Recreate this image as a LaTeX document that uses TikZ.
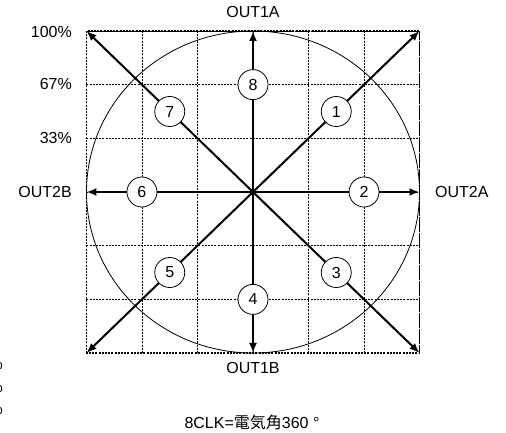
\documentclass[tikz,border=0pt]{standalone}
\usepackage{fontspec}
\setmainfont{Liberation Sans}
\newfontfamily\cjkfont{Noto Sans CJK JP}
\usetikzlibrary{arrows.meta}

\begin{document}
\begin{tikzpicture}[
      x=1pt, y=1pt,
      font=\fontsize{16}{19}\selectfont,
      gridline/.style={line width=0.9pt, dash pattern=on 2pt off 1.2pt},
      axis/.style={->, line width=2.4pt},
      diag/.style={->, line width=2pt},
      num/.style={circle, draw, fill=white, line width=0.8pt,
                  minimum size=30pt, inner sep=0pt},
      lbl/.style={inner sep=0pt},
      >={Latex[length=10pt, width=8pt]}]
    \useasboundingbox (-253,-241) rectangle (253,192);
    % grid and outline
    \draw[gridline, xstep=55.5, ystep=53.667] (-166.5,-161) grid (166.5,161);
    \draw[gridline, line width=1.3pt] (-166.5,-161) rectangle (166.5,161);
    \draw[line width=0.8pt] (0,0) ellipse [x radius=166.5, y radius=161];
    % end points
    \coordinate (c)  at (0,0);
    \coordinate (t)  at (0,161);
    \coordinate (b)  at (0,-161);
    \coordinate (l)  at (-166.5,0);
    \coordinate (r)  at (166.5,0);
    \coordinate (tl) at (-166.5,161);
    \coordinate (tr) at (166.5,161);
    \coordinate (bl) at (-166.5,-161);
    \coordinate (br) at (166.5,-161);
    % vectors
    \draw[diag] (c) -- node[num, pos=.5] (n1) {1} (tr);
    \draw[axis] (c) -- node[num, pos=.667] (n2) {2} (r);
    \draw[diag] (c) -- node[num, pos=.5] (n3) {3} (br);
    \draw[axis] (c) -- node[num, pos=.667] (n4) {4} (b);
    \draw[diag] (c) -- node[num, pos=.5] (n5) {5} (bl);
    \draw[axis] (c) -- node[num, pos=.667] (n6) {6} (l);
    \draw[diag] (c) -- node[num, pos=.5] (n7) {7} (tl);
    \draw[axis] (c) -- node[num, pos=.667] (n8) {8} (t);
    % labels
    \node[lbl] (out1a) at (0,180)      {OUT1A};
    \node[lbl] (out1b) at (0,-176)     {OUT1B};
    \node[lbl, anchor=east] (out2b) at (-181,0) {OUT2B};
    \node[lbl, anchor=west] (out2a) at (182,0)  {OUT2A};
    \node[lbl, anchor=east] (p100) at (-181,160) {100\%};
    \node[lbl, anchor=east] (p67)  at (-181,108) {67\%};
    \node[lbl, anchor=east] (p33)  at (-181,54)  {33\%};
    \node[lbl, anchor=east] (q1) at (-250,-172.3) {\%};
    \node[lbl, anchor=east] (q2) at (-250,-194.6) {\%};
    \node[lbl, anchor=east] (q3) at (-250,-216.6) {\%};
    \node[lbl] (clk) at (-1,-230) {8CLK={\cjkfont 電気角}360 °};
  \end{tikzpicture}
\end{document}
